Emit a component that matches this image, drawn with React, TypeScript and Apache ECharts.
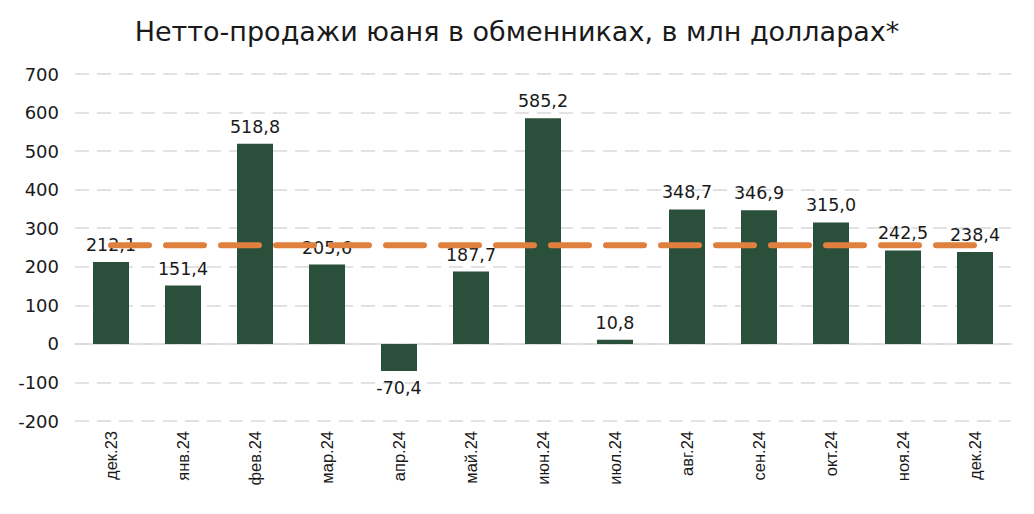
import React, { useEffect, useRef } from "react";
import * as echarts from "echarts";

const categories = ["дек.23", "янв.24", "фев.24", "мар.24", "апр.24", "май.24", "июн.24", "июл.24", "авг.24", "сен.24", "окт.24", "ноя.24", "дек.24"];
const netSales = [212.1, 151.4, 518.8, 205.6, -70.4, 187.7, 585.2, 10.8, 348.7, 346.9, 315.0, 242.5, 238.4];
const averageLine = [256, 256, 256, 256, 256, 256, 256, 256, 256, 256, 256, 256, 256];
const yTicks = { min: -200, max: 700, interval: 100 };

const fmt = (v: number) => v.toFixed(1).replace(".", ",");

export default function App() {
  const ref = useRef<HTMLDivElement>(null);
  useEffect(() => {
    const chart = echarts.init(ref.current!, null, { renderer: "svg" });
    chart.setOption({
      animation: false,
      title: {
        text: "Нетто-продажи юаня в обменниках, в млн долларах*",
        left: "center",
        top: 5,
        textStyle: { fontFamily: "DejaVu Sans", fontWeight: "normal", fontSize: 27, color: "#1a1a1a" },
      },
      grid: { left: 67, right: 15, top: 66, bottom: 85 },
      xAxis: {
        type: "category",
        data: categories,
        axisLine: { show: true, onZero: true, lineStyle: { color: "#d9d9d9", width: 1.5 } },
        axisTick: { show: false },
        axisLabel: {
          rotate: 90,
          interval: 0,
          margin: 10,
          fontFamily: "Liberation Sans",
          fontSize: 16.5,
          color: "#1a1a1a",
        },
      },
      yAxis: {
        type: "value",
        min: yTicks.min,
        max: yTicks.max,
        interval: yTicks.interval,
        axisLine: { show: false },
        axisTick: { show: false },
        axisLabel: { fontFamily: "DejaVu Sans", fontSize: 18, color: "#1a1a1a", margin: 16 },
        splitLine: { lineStyle: { color: "#d9d9d9", width: 1.5, type: [14, 8] } },
      },
      series: [
        {
          type: "bar",
          data: netSales.map((v) => ({
            value: v,
            label: { position: v < 0 ? "bottom" : "top" },
          })),
          barWidth: "50%",
          itemStyle: { color: "#2a4f3b" },
          label: {
            show: true,
            distance: 8,
            fontFamily: "DejaVu Sans",
            fontSize: 17.5,
            color: "#1a1a1a",
            formatter: (p: any) => fmt(p.value),
          },
          z: 2,
        },
        {
          type: "line",
          data: averageLine,
          symbol: "none",
          lineStyle: { color: "#e0803f", width: 6, type: [38, 17], cap: "round" },
          z: 3,
        },
      ],
    });
    return () => chart.dispose();
  }, []);
  return <div ref={ref} style={{ width: 1018, height: 498 }} />;
}
